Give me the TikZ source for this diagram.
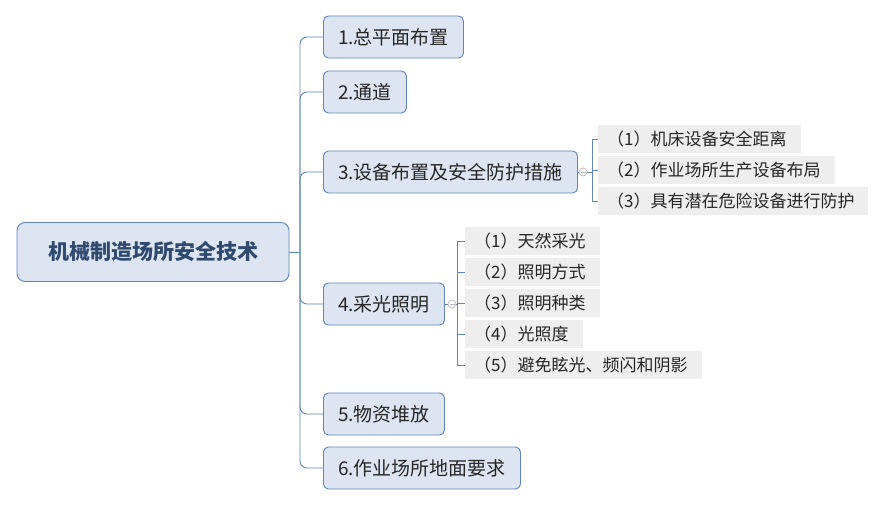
\documentclass[tikz,border=0pt]{standalone}
\usepackage{fontspec}
\setmainfont{Noto Sans CJK SC}
\definecolor{kuangbian}{RGB}{96,133,186}
\definecolor{kuangtian}{RGB}{220,229,241}
\definecolor{zitian}{RGB}{238,238,238}
\definecolor{genzi}{RGB}{47,74,110}
\definecolor{zhuzi}{RGB}{38,38,38}
\tikzset{
    gen/.style={draw=kuangbian, fill=kuangtian, rounded corners=8pt, line width=0.9pt,
        font=\fontsize{21}{24}\selectfont\bfseries, text=genzi,
        minimum width=272pt, minimum height=59pt},
    zhu/.style={draw=kuangbian, fill=kuangtian, rounded corners=5pt, line width=0.9pt,
        font=\fontsize{19}{22}\selectfont, text=zhuzi, inner sep=0pt,
        minimum height=42pt, anchor=west},
    zi/.style={fill=zitian, font=\fontsize{17}{20}\selectfont, text=zhuzi,
        inner xsep=9pt, inner ysep=2pt, minimum height=28pt, anchor=west, align=left},
    lian/.style={draw=kuangbian, line width=0.9pt},
    shou/.style={circle, draw=gray!55, fill=white, line width=0.7pt, inner sep=0pt, minimum size=8pt}
}
\begin{document}
\begin{tikzpicture}[x=1pt, y=-1pt]
    \useasboundingbox[fill=white] (0,0) rectangle (885,506);

    % 根节点
    \node[gen] (gen) at (153,252) {机械制造场所安全技术};
    \coordinate (gan) at (300,252);
    \draw[lian] (gen.east) -- (gan);

    % 一级节点
    \foreach \n/\y/\w/\t in {1/37/140/{1.总平面布置}, 2/92/83/{2.通道},
        3/172/254/{3.设备布置及安全防护措施}, 4/304/121/{4.采光照明},
        5/414/121/{5.物资堆放}, 6/468/197/{6.作业场所地面要求}} {
        \node[zhu, minimum width=\w pt] (z\n) at (323,\y) {\t};
        \draw[lian, rounded corners=7pt] (gan) |- (z\n.west);
    }

    % 3 的子节点
    \node[shou] (s3) at (583,172) {};
    \draw[gray!55, line width=0.7pt] ([xshift=-2.5pt]s3.center) -- ([xshift=2.5pt]s3.center);
    \coordinate (k3) at (592,172);
    \draw[lian] (z3.east) -- (s3.west);
    \draw[lian] (s3.east) -- (k3);
    \foreach \n/\y/\w/\t in {1/139/185/{（1）机床设备安全距离}, 2/170/219/{（2）作业场所生产设备布局},
        3/201/252/{（3）具有潜在危险设备进行防护}} {
        \node[zi, text width=\w pt] (c3\n) at (598,\y) {\t};
        \draw[lian] (k3) |- (c3\n.west);
    }

    % 4 的子节点
    \node[shou] (s4) at (452,304) {};
    \draw[gray!55, line width=0.7pt] ([xshift=-2.5pt]s4.center) -- ([xshift=2.5pt]s4.center);
    \coordinate (k4) at (457,304);
    \draw[lian] (z4.east) -- (s4.west);
    \draw[lian] (s4.east) -- (k4);
    \foreach \n/\y/\w/\t in {1/241/117/{（1）天然采光}, 2/272/117/{（2）照明方式},
        3/303/117/{（3）照明种类}, 4/334/100/{（4）光照度},
        5/365/219/{（5）避免眩光、频闪和阴影}} {
        \node[zi, text width=\w pt] (c4\n) at (465,\y) {\t};
        \draw[lian] (k4) |- (c4\n.west);
    }
\end{tikzpicture}
\end{document}
